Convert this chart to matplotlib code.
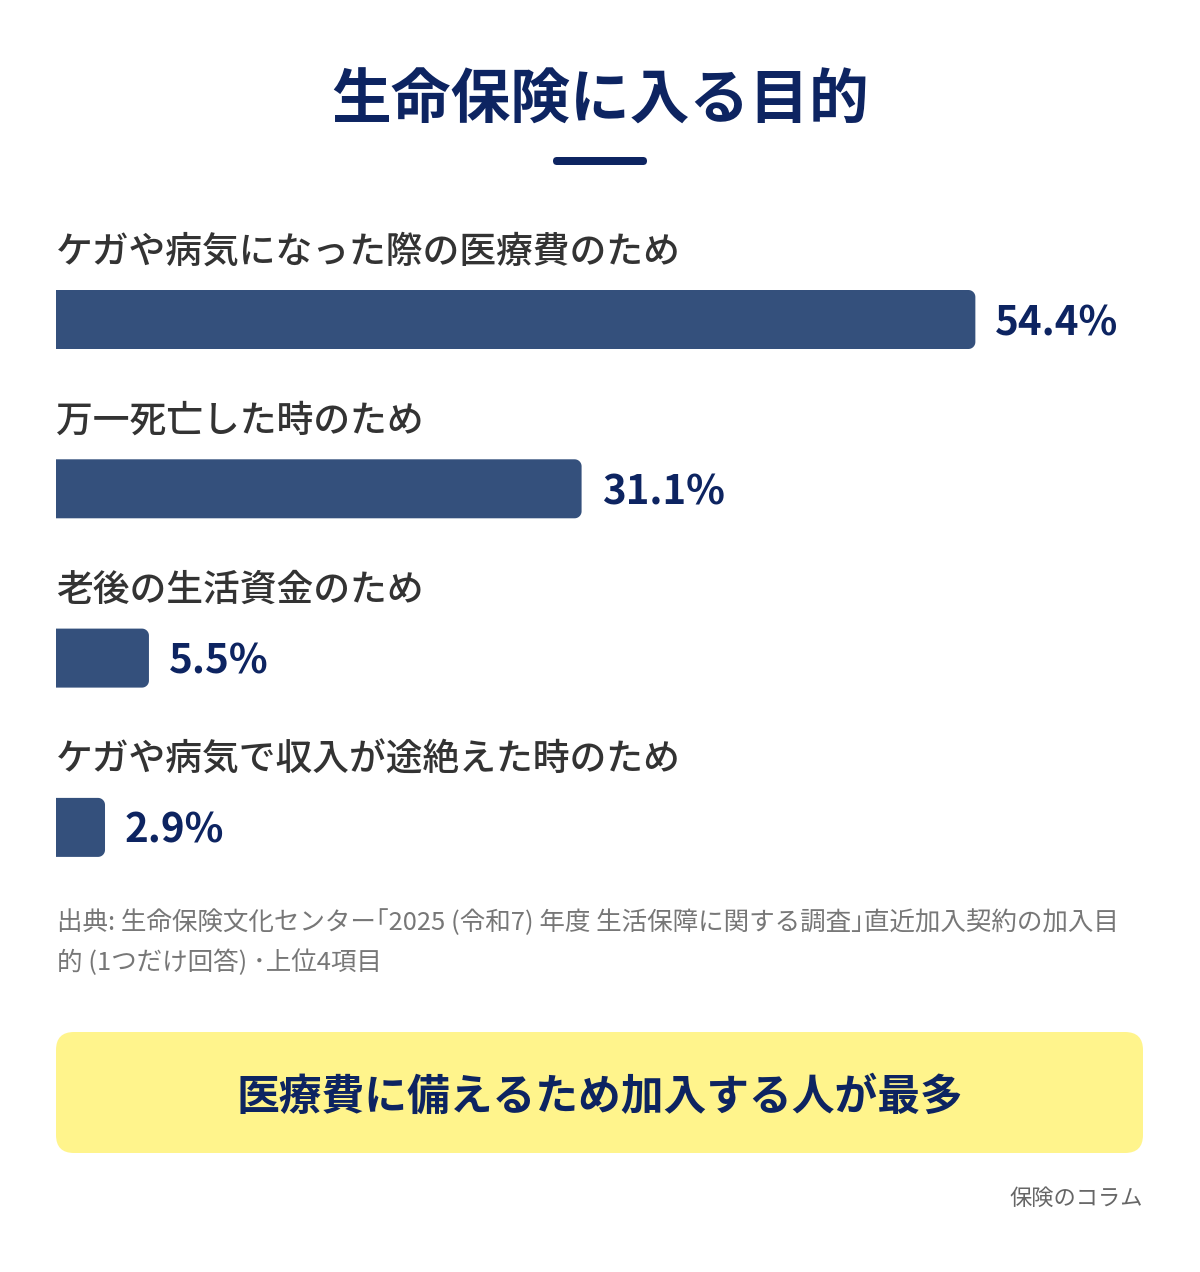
import matplotlib.pyplot as plt
from matplotlib.patches import FancyBboxPatch, PathPatch
from matplotlib.path import Path
import numpy as np

plt.rcParams['font.family'] = ['Noto Sans CJK JP', 'DejaVu Sans']

title = "生命保険に入る目的"
categories = ["ケガや病気になった際の医療費のため",
              "万一死亡した時のため",
              "老後の生活資金のため",
              "ケガや病気で収入が途絶えた時のため"]
values = [54.4, 31.1, 5.5, 2.9]
source = ("出典: 生命保険文化センター｢2025 (令和7) 年度 生活保障に関する調査｣直近加入契約の加入目\n"
          "的 (1つだけ回答) ･上位4項目")
summary = "医療費に備えるため加入する人が最多"
credit = "保険のコラム"

navy = "#0d2461"
bar_color = "#34507c"
label_color = "#333333"

W, H = 1200, 1272
fig = plt.figure(figsize=(W / 100, H / 100), dpi=100)

# background axes in pixel coordinates for decorations
bg = fig.add_axes([0, 0, 1, 1])
bg.set_xlim(0, W)
bg.set_ylim(H, 0)
bg.axis("off")

bg.text(600, 102, title, ha="center", va="center", fontsize=43,
        fontweight="bold", color=navy)
bg.add_patch(FancyBboxPatch((553, 157), 94, 8, boxstyle="round,pad=0,rounding_size=4",
                            fc=navy, ec="none"))

# bar axes: x in percent, y in category index
px_per_pct = 16.9
ax_left, ax_top, ax_bottom = 56, 200, 880
ax = fig.add_axes([ax_left / W, (H - ax_bottom) / H, (W - ax_left) / W, (ax_bottom - ax_top) / H])
ax.set_xlim(0, (W - ax_left) / px_per_pct)
row = 169.3
first = 319.5
ax.set_ylim((ax_bottom - first) / row, (ax_top - first) / row)
ax.axis("off")

bar_h = 59 / row
rx = 7 / px_per_pct
ry = 7 / row


def right_rounded(v, y0, h):
    # square left end, rounded right corners
    t = np.linspace(0, np.pi / 2, 12)
    top = [(v - rx + rx * np.sin(a), y0 + ry - ry * np.cos(a)) for a in t]
    bot = [(v - rx + rx * np.cos(a), y0 + h - ry + ry * np.sin(a)) for a in t]
    verts = [(0, y0)] + top + bot + [(0, y0 + h), (0, y0)]
    codes = [Path.MOVETO] + [Path.LINETO] * (len(verts) - 2) + [Path.CLOSEPOLY]
    return Path(verts, codes)


for i, (cat, v) in enumerate(zip(categories, values)):
    y0 = i - bar_h / 2
    ax.add_patch(PathPatch(right_rounded(v, y0, bar_h), fc=bar_color, ec="none"))
    ax.text(0, i - 68 / row, cat, ha="left", va="center", fontsize=26.5,
            fontweight="medium", color=label_color)
    ax.text(v + 20 / px_per_pct, i + 4 / row, f"{v:.1f}%", ha="left", va="center",
            fontsize=29, fontweight="bold", color=navy)

bg.text(57, 943, source, ha="left", va="center", fontsize=18.4, color="#777777",
        linespacing=1.65)

bg.add_patch(FancyBboxPatch((56, 1032), 1087, 121, boxstyle="round,pad=0,rounding_size=18",
                            fc="#fff48c", ec="none"))
bg.text(600, 1097, summary, ha="center", va="center", fontsize=30.8,
        fontweight="bold", color=navy)

bg.text(1143, 1198, credit, ha="right", va="center", fontsize=16, color="#666666")

fig.savefig("out.png", dpi=100)
